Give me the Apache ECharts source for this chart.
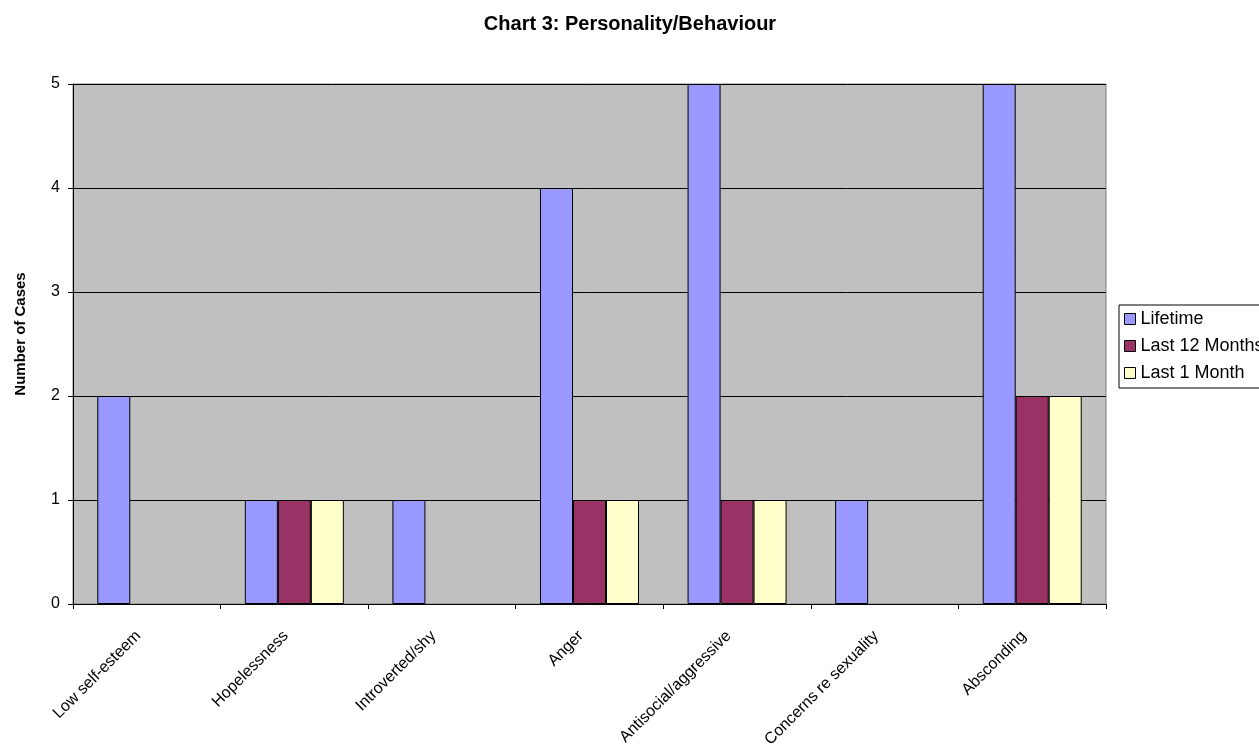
<!DOCTYPE html>
<html><head><meta charset="utf-8">
<script src="https://cdn.jsdelivr.net/npm/echarts@6/dist/echarts.min.js"></script>
<style>html,body{margin:0;padding:0;background:#fff}#c{width:1259px;height:751px}</style>
</head><body><div id="c"></div>
<script>
const categories = ["Low self-esteem","Hopelessness","Introverted/shy","Anger","Antisocial/aggressive","Concerns re sexuality","Absconding"];
const lifetime = [2,1,1,4,5,1,5];
const last12Months = [0,1,0,1,1,0,2];
const last1Month = [0,1,0,1,1,0,2];
const seriesNames = ["Lifetime","Last 12 Months","Last 1 Month"];
const seriesColors = ["#9999FF","#993366","#FFFFCC"];
const yTicks = [0,1,2,3,4,5];

const font = "'Liberation Sans', Arial, sans-serif";
const chart = echarts.init(document.getElementById('c'), null, {renderer:'canvas'});
const dataSets = [lifetime, last12Months, last1Month];
chart.setOption({
  animation:false,
  textStyle:{fontFamily:font},
  title:{text:"Chart 3: Personality/Behaviour", left:625, top:9, textAlign:'center',
    textStyle:{fontFamily:font, fontSize:20, fontWeight:'bold', color:'#000'}},
  legend:{orient:'vertical', left:1119, top:305, data:seriesNames,
    backgroundColor:'#fff', borderColor:'#000', borderWidth:1, padding:[5,40,6,5],
    itemWidth:11, itemHeight:11, itemGap:9, icon:'rect',
    textStyle:{fontFamily:font, fontSize:18, color:'#000'},
    itemStyle:{borderColor:'#000', borderWidth:1}},
  grid:{left:73, top:84, width:1033, height:520, show:true, backgroundColor:'#C0C0C0',
    borderColor:'#808080', borderWidth:1, containLabel:false, outerBoundsMode:'none'},
  xAxis:{type:'category', data:categories,
    axisLine:{lineStyle:{color:'#000', width:1}},
    axisTick:{show:true, length:5, lineStyle:{color:'#000'}},
    axisLabel:{rotate:45, fontFamily:font, fontSize:16, color:'#000', margin:21, interval:0,
      padding:[0,12,0,0]}},
  yAxis:{type:'value', min:0, max:5, interval:1,
    name:"Number of Cases", nameLocation:'middle', nameGap:45, nameRotate:90,
    nameTextStyle:{fontFamily:font, fontSize:15, fontWeight:'bold', color:'#000', padding:[0,0,0,20]},
    axisLine:{show:true, lineStyle:{color:'#000'}},
    axisTick:{show:true, length:5, lineStyle:{color:'#000'}},
    axisLabel:{fontFamily:font, fontSize:16, color:'#000', margin:13, formatter:v=>yTicks.includes(v)?String(v):''},
    splitLine:{show:true, lineStyle:{color:'#000', width:1}}},
  series: seriesNames.map((n,i)=>({
    name:n, type:'bar', barWidth:33, barGap:'0%',
    data:dataSets[i].map(v=>v===0?{value:v, itemStyle:{borderWidth:0}}:v),
    itemStyle:{color:seriesColors[i], borderColor:'#000', borderWidth:1}
  }))
});
</script></body></html>
